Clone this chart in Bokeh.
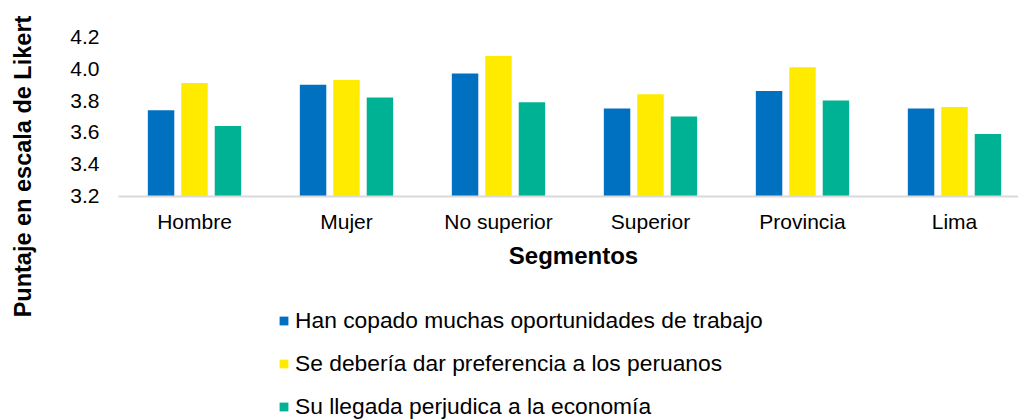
import math
from bokeh.plotting import figure
from bokeh.models import (ColumnDataSource, Range1d, FixedTicker, Legend, LegendItem, Label)
from bokeh.transform import dodge
from bokeh.embed import file_html
from bokeh.resources import INLINE

categories = ["Hombre", "Mujer", "No superior", "Superior", "Provincia", "Lima"]
series_names = ["Han copado muchas oportunidades de trabajo",
                "Se debería dar preferencia a los peruanos",
                "Su llegada perjudica a la economía"]
oportunidades = [3.74, 3.90, 3.97, 3.75, 3.86, 3.75]
preferencia = [3.91, 3.93, 4.08, 3.84, 4.01, 3.76]
economia = [3.64, 3.82, 3.79, 3.70, 3.80, 3.59]
y_ticks = [3.2, 3.4, 3.6, 3.8, 4.0, 4.2]
colors = ["#0070C0", "#FFEB00", "#00B294"]

FONT = "Liberation Sans"

src = ColumnDataSource(dict(x=list(range(len(categories))),
                            s0=oportunidades, s1=preferencia, s2=economia))

W, H = 1018, 419
TOP = 36.5          # px from top to the 4.2 gridline position
BASE = 195.5        # px from top to the 3.2 baseline
LEFT = 118          # left edge of the plotting area, px
CAT_PX = 152.0      # px per category
PX_PER_UNIT = (BASE - TOP) / 1.0
y_end = 4.2 + TOP / PX_PER_UNIT
y_start = 3.2 - (H - BASE) / PX_PER_UNIT
x_start = -0.5 - LEFT / CAT_PX
x_end = -0.5 + (W - LEFT) / CAT_PX

p = figure(width=W, height=H, output_backend="svg", toolbar_location=None,
           x_range=Range1d(x_start, x_end), y_range=Range1d(y_start, y_end),
           min_border_left=0, min_border_right=0, min_border_top=0, min_border_bottom=0)
p.outline_line_color = None
p.grid.visible = False

offsets = [-0.22, 0.0, 0.22]
renderers = []
for i, key in enumerate(["s0", "s1", "s2"]):
    r = p.vbar(x=dodge("x", offsets[i]), top=key, bottom=3.2, width=0.174, source=src,
               fill_color=colors[i], line_color=None)
    renderers.append(r)

xa = p.xaxis[0]
xa.fixed_location = 3.2
xa.bounds = (-0.5, x_end)
xa.ticker = FixedTicker(ticks=list(range(len(categories))))
xa.major_label_overrides = {i: c for i, c in enumerate(categories)}
xa.major_tick_line_color = None
xa.minor_tick_line_color = None
xa.axis_line_color = "#D9D9D9"
xa.axis_line_width = 2
xa.major_label_text_font = FONT
xa.major_label_text_font_size = "21px"
xa.major_label_text_color = "#000000"
xa.major_label_standoff = 8

ya = p.yaxis[0]
ya.fixed_location = -0.5
ya.ticker = FixedTicker(ticks=y_ticks)
ya.major_label_overrides = {t: f"{t:.1f}" for t in y_ticks}
ya.major_tick_line_color = None
ya.minor_tick_line_color = None
ya.axis_line_color = None
ya.major_label_text_font = FONT
ya.major_label_text_font_size = "21px"
ya.major_label_text_color = "#000000"
ya.major_label_standoff = 13

# axis titles (screen units relative to the frame's bottom-left corner)
p.add_layout(Label(x=22, y=H - 166, x_units="screen", y_units="screen",
                   text="Puntaje en escala de Likert", angle=math.pi / 2,
                   text_align="center", text_baseline="middle",
                   text_font=FONT, text_font_size="23.5px", text_font_style="bold",
                   text_color="#000000"))
p.add_layout(Label(x=573, y=H - 255, x_units="screen", y_units="screen",
                   text="Segmentos", text_align="center", text_baseline="middle",
                   text_font=FONT, text_font_size="24px", text_font_style="bold",
                   text_color="#000000"))

legend = Legend(items=[LegendItem(label=series_names[i], renderers=[renderers[i]]) for i in range(3)],
                location=(278, -1), orientation="vertical",
                glyph_width=11, glyph_height=11, label_standoff=6,
                label_height=24, spacing=16, padding=0, margin=0,
                border_line_color=None, background_fill_alpha=0,
                label_text_font=FONT, label_text_font_size="22.8px", label_text_color="#000000")
p.add_layout(legend, "center")

open("out.html", "w").write(file_html(p, INLINE))
